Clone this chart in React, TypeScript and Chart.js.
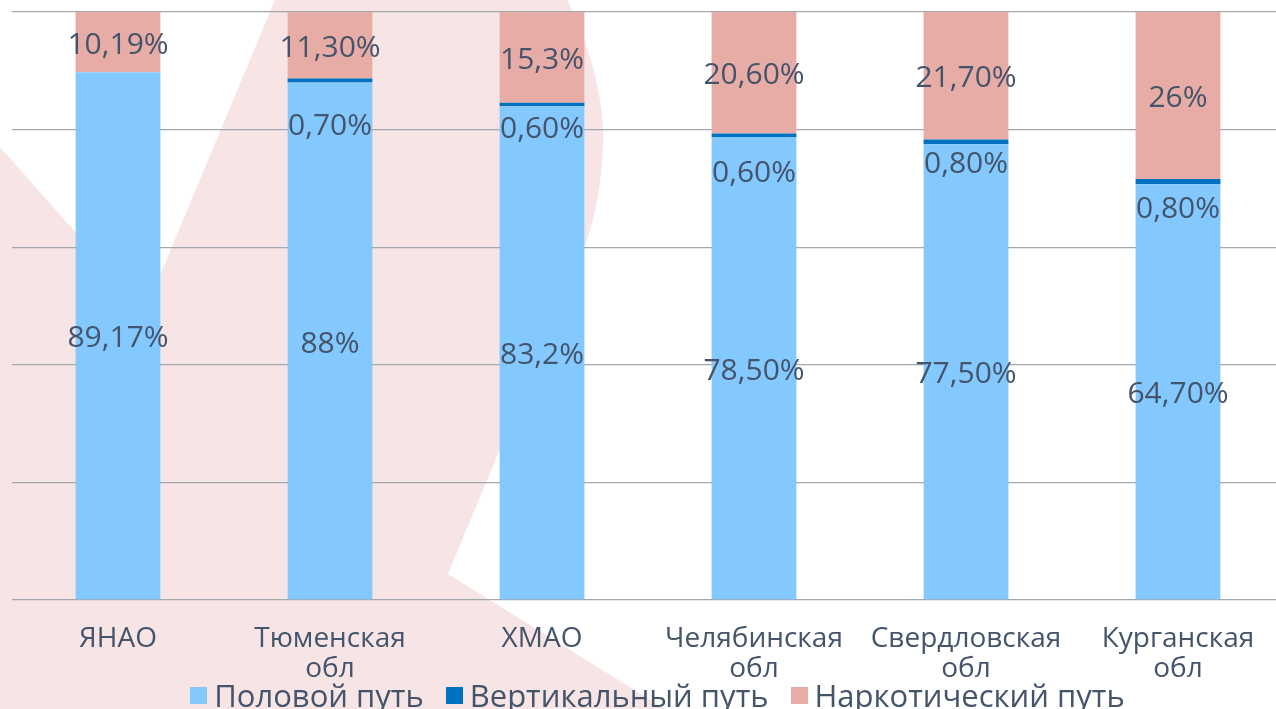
import React, { useEffect, useRef } from "react";
import { Chart, registerables } from "chart.js";

Chart.register(...registerables);

// ---------- data ----------
const categories: string[][] = [
  ["ЯНАО"],
  ["Тюменская", "обл"],
  ["ХМАО"],
  ["Челябинская", "обл"],
  ["Свердловская", "обл"],
  ["Курганская", "обл"],
];
const seriesNames = ["Половой путь", "Вертикальный путь", "Наркотический путь"];
const sexualValues = [89.17, 88, 83.2, 78.5, 77.5, 64.7];
const verticalValues = [0, 0.7, 0.6, 0.6, 0.8, 0.8];
const drugValues = [10.19, 11.3, 15.3, 20.6, 21.7, 26];
const sexualLabels = ["89,17%", "88%", "83,2%", "78,50%", "77,50%", "64,70%"];
const verticalLabels = ["", "0,70%", "0,60%", "0,60%", "0,80%", "0,80%"];
const drugLabels = ["10,19%", "11,30%", "15,3%", "20,60%", "21,70%", "26%"];
const yTicks = [0, 20, 40, 60, 80, 100];

// ---------- styling ----------
const COLORS = ["#83C8FF", "#0070C0", "#E8ACA6"];
const TEXT = "#44546A";
const GRID = "#A3A7AE";
const FONT = "'Open Sans', 'Noto Sans', sans-serif";
const verticalLabelShift = [0, 43, 22, 35, 20, 25];
const LABEL_NUDGE = 3;

// 100% stacked: each category normalised to its total
const totals = categories.map((_, i) => sexualValues[i] + verticalValues[i] + drugValues[i]);
const share = (arr: number[]) => arr.map((v, i) => (v / totals[i]) * 100);

const backgroundPlugin = {
  id: "bgShape",
  beforeDraw(chart: any) {
    const { ctx, width, height } = chart;
    ctx.save();
    ctx.fillStyle = "#ffffff";
    ctx.fillRect(0, 0, width, height);
    ctx.fillStyle = "#F7E5E6";
    ctx.beginPath();
    ctx.moveTo(0, 147);
    ctx.lineTo(145, 311);
    ctx.lineTo(275, 0);
    ctx.lineTo(567, 0);
    ctx.bezierCurveTo(592, 50, 608, 110, 602, 161);
    ctx.quadraticCurveTo(598, 215, 583, 249);
    ctx.lineTo(448, 574);
    ctx.lineTo(665, 709);
    ctx.lineTo(0, 709);
    ctx.closePath();
    ctx.fill();
    ctx.restore();
  },
};

const labelPlugin = {
  id: "segLabels",
  afterDatasetsDraw(chart: any) {
    const { ctx } = chart;
    const labelSets = [sexualLabels, verticalLabels, drugLabels];
    ctx.save();
    ctx.font = `30px ${FONT}`;
    ctx.fillStyle = TEXT;
    ctx.textAlign = "center";
    ctx.textBaseline = "middle";
    chart.data.datasets.forEach((_: any, di: number) => {
      const meta = chart.getDatasetMeta(di);
      meta.data.forEach((el: any, i: number) => {
        const txt = labelSets[di][i];
        if (!txt) return;
        const { x, y, base } = el.getProps(["x", "y", "base"], true);
        let cy = (y + base) / 2 + LABEL_NUDGE;
        if (di === 1) cy += verticalLabelShift[i];
        ctx.fillText(txt, x, cy);
      });
    });
    ctx.restore();
  },
};

export default function App() {
  const ref = useRef<HTMLCanvasElement | null>(null);

  useEffect(() => {
    if (!ref.current) return;
    const chart = new Chart(ref.current, {
      type: "bar",
      data: {
        labels: categories,
        datasets: [
          { label: seriesNames[0], data: share(sexualValues), backgroundColor: COLORS[0] },
          { label: seriesNames[1], data: share(verticalValues), backgroundColor: COLORS[1] },
          { label: seriesNames[2], data: share(drugValues), backgroundColor: COLORS[2] },
        ],
      },
      options: {
        responsive: false,
        animation: false,
        layout: { padding: { left: 12, right: 6, top: 12, bottom: 4 } },
        datasets: { bar: { categoryPercentage: 1, barPercentage: 0.4 } } as any,
        plugins: { legend: { display: false }, tooltip: { enabled: false } },
        scales: {
          x: {
            stacked: true,
            grid: { display: false },
            border: { display: false },
            ticks: {
              color: TEXT,
              font: { family: FONT, size: 28, lineHeight: 30 / 28 },
              padding: 16,
              maxRotation: 0,
              autoSkip: false,
            },
            afterFit: (s: any) => {
              s.height = 105;
            },
          },
          y: {
            stacked: true,
            min: yTicks[0],
            max: yTicks[yTicks.length - 1],
            afterBuildTicks: (s: any) => {
              s.ticks = yTicks.map((v) => ({ value: v }));
            },
            grid: { color: GRID, lineWidth: 1.3, drawTicks: false },
            border: { display: false },
            ticks: { display: false },
            afterFit: (s: any) => {
              s.width = 0;
            },
          },
        },
      },
      plugins: [backgroundPlugin, labelPlugin],
    });
    return () => chart.destroy();
  }, []);

  return (
    <div
      style={{
        position: "fixed",
        left: 0,
        top: 0,
        width: 1276,
        height: 709,
        overflow: "hidden",
        background: "#fff",
      }}
    >
      <canvas ref={ref} width={1290} height={709} style={{ display: "block" }} />
      <div
        style={{
          position: "absolute",
          left: 0,
          width: 1315,
          top: 680,
          height: 30,
          display: "flex",
          justifyContent: "center",
          alignItems: "center",
          fontFamily: FONT,
          fontSize: 31,
          lineHeight: "30px",
          color: TEXT,
          whiteSpace: "nowrap",
        }}
      >
        {seriesNames.map((name, i) => (
          <div key={name} style={{ display: "flex", alignItems: "center", marginLeft: i ? 22 : 0 }}>
            <span
              style={{ width: 17, height: 17, background: COLORS[i], display: "inline-block", marginRight: 7 }}
            />
            <span>{name}</span>
          </div>
        ))}
      </div>
    </div>
  );
}
